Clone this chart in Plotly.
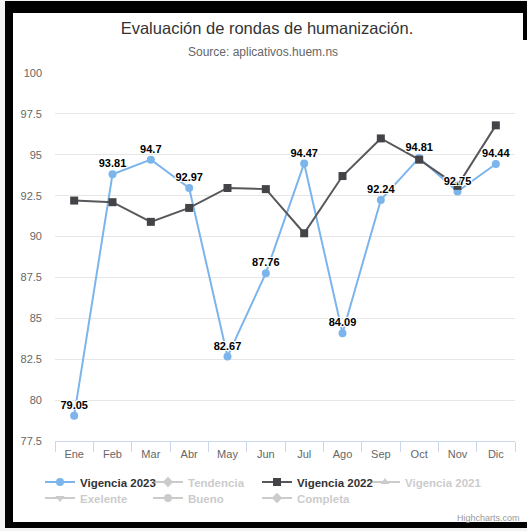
import plotly.graph_objects as go

# ---------------- data ----------------
months = ["Ene", "Feb", "Mar", "Abr", "May", "Jun", "Jul", "Ago", "Sep", "Oct", "Nov", "Dic"]
vigencia_2023 = [79.05, 93.81, 94.7, 92.97, 82.67, 87.76, 94.47, 84.09, 92.24, 94.81, 92.75, 94.44]
vigencia_2022 = [92.2, 92.1, 90.9, 91.75, 92.97, 92.9, 90.2, 93.7, 96.0, 94.7, 93.1, 96.8]
labels_2023 = ["79.05", "93.81", "94.7", "92.97", "82.67", "87.76", "94.47", "84.09", "92.24", "94.81", "92.75", "94.44"]
hidden_series = ["Tendencia", "Vigencia 2021", "Exelente", "Bueno", "Completa"]
hidden_symbols = ["diamond", "triangle-up", "triangle-down", "circle", "diamond"]
y_ticks = [77.5, 80, 82.5, 85, 87.5, 90, 92.5, 95, 97.5, 100]

# ---------------- geometry helpers ----------------
W, H = 527, 531
L, R, T, B = 55, 12, 73, 90
PW, PH = W - L - R, H - T - B


def px_x(px):
    return (px - L) / PW


def px_y(py):
    return (H - B - py) / PH


FONT = "Liberation Sans, Arial, sans-serif"
BLUE = "#7cb5ec"
DARK = "#434348"

fig = go.Figure()

# Vigencia 2023 (legend 1)
fig.add_trace(go.Scatter(
    x=months, y=vigencia_2023, name="Vigencia 2023", mode="lines+markers",
    line=dict(color=BLUE, width=2), marker=dict(symbol="circle", size=8, color=BLUE),
    legend="legend", hoverinfo="x+y",
))

# Tendencia (hidden)
fig.add_trace(go.Scatter(
    x=[None], y=[None], name=hidden_series[0], mode="lines+markers", visible="legendonly",
    line=dict(color="#999999", width=2), marker=dict(symbol=hidden_symbols[0], size=8, color="#999999"),
    legend="legend2",
))

# Vigencia 2022
fig.add_trace(go.Scatter(
    x=months, y=vigencia_2022, name="Vigencia 2022", mode="lines+markers",
    line=dict(color="#58585c", width=2), marker=dict(symbol="square", size=8, color=DARK),
    legend="legend3", hoverinfo="x+y",
))

# other hidden series
for i, (nm, sym) in enumerate(zip(hidden_series[1:], hidden_symbols[1:])):
    fig.add_trace(go.Scatter(
        x=[None], y=[None], name=nm, mode="lines+markers", visible="legendonly",
        line=dict(color="#999999", width=2), marker=dict(symbol=sym, size=8, color="#999999"),
        legend="legend%d" % (i + 4),
    ))

# data labels for 2023 on top of everything
fig.add_trace(go.Scatter(
    x=months, y=vigencia_2023, mode="markers+text", text=labels_2023, textposition="top center",
    marker=dict(size=5, color="rgba(0,0,0,0)"),
    textfont=dict(family=FONT, size=11, color="#000000", weight="bold",
                  shadow="-1px -1px 0 #fff, 1px -1px 0 #fff, -1px 1px 0 #fff, 1px 1px 0 #fff"),
    showlegend=False, hoverinfo="skip",
))

# ---------------- legends ----------------
leg_pos = {
    "legend": (80, 482, "#333333"),
    "legend2": (188, 482, "#999999"),
    "legend3": (297, 482, "#333333"),
    "legend4": (405, 482, "#999999"),
    "legend5": (80, 498, "#999999"),
    "legend6": (188, 498, "#999999"),
    "legend7": (297, 498, "#999999"),
}
legend_layout = {}
for key, (tx, ty, col) in leg_pos.items():
    legend_layout[key] = dict(
        x=px_x(tx - 40), y=px_y(ty), xanchor="left", yanchor="middle",
        bgcolor="rgba(0,0,0,0)", borderwidth=0, itemwidth=30,
        font=dict(family=FONT, size=11.5, color=col, weight="bold"),
        tracegroupgap=0,
    )

# ---------------- frame shapes ----------------
shapes = [
    dict(type="rect", xref="paper", yref="paper", layer="below",
         x0=px_x(5), x1=px_x(540), y0=px_y(528), y1=px_y(1),
         fillcolor="#000000", line=dict(width=0)),
    dict(type="rect", xref="paper", yref="paper", layer="below",
         x0=px_x(13), x1=px_x(540), y0=px_y(522), y1=px_y(13),
         fillcolor="#ffffff", line=dict(width=0)),
    dict(type="rect", xref="paper", yref="paper", layer="below",
         x0=px_x(523), x1=px_x(540), y0=px_y(40), y1=px_y(1),
         fillcolor="#000000", line=dict(width=0)),
]

fig.update_layout(
    width=W, height=H,
    margin=dict(l=L, r=R, t=T, b=B, pad=0),
    paper_bgcolor="#f2f2f2",
    plot_bgcolor="rgba(0,0,0,0)",
    font=dict(family=FONT, color="#666666", size=11),
    title=dict(text="Evaluación de rondas de humanización.", x=267 / W, y=1 - 28 / H,
               xref="container", yref="container", xanchor="center", yanchor="middle",
               font=dict(family=FONT, size=16.5, color="#333333")),
    annotations=[
        dict(text="Source: aplicativos.huem.ns", xref="paper", yref="paper",
             x=px_x(263), y=px_y(52), xanchor="center", yanchor="middle", showarrow=False,
             font=dict(family=FONT, size=12, color="#666666")),
        dict(text="Highcharts.com", xref="paper", yref="paper",
             x=px_x(522), y=px_y(518), xanchor="right", yanchor="middle", showarrow=False,
             font=dict(family=FONT, size=9, color="#999999")),
    ],
    shapes=shapes,
    xaxis=dict(
        type="category", categoryorder="array", categoryarray=months,
        range=[-0.5, len(months) - 0.5], showgrid=False, zeroline=False,
        showline=True, linecolor="#ccd6eb", linewidth=1,
        ticks="outside", tickson="boundaries", ticklen=10, tickcolor="#ccd6eb", tickwidth=1,
        tickfont=dict(family=FONT, size=11, color="#666666"), ticklabelstandoff=3,
        fixedrange=True,
    ),
    yaxis=dict(
        range=[77.5, 100], tickvals=y_ticks, showgrid=True, gridcolor="#e6e6e6", gridwidth=1,
        zeroline=False, showline=False, ticks="",
        tickfont=dict(family=FONT, size=11, color="#666666"), ticklabelstandoff=12,
        fixedrange=True,
    ),
    showlegend=True,
    **legend_layout,
)

fig.write_html("out.html", config={"displayModeBar": False},
               post_script="document.body.style.margin='0px';document.body.style.overflow='hidden';")
